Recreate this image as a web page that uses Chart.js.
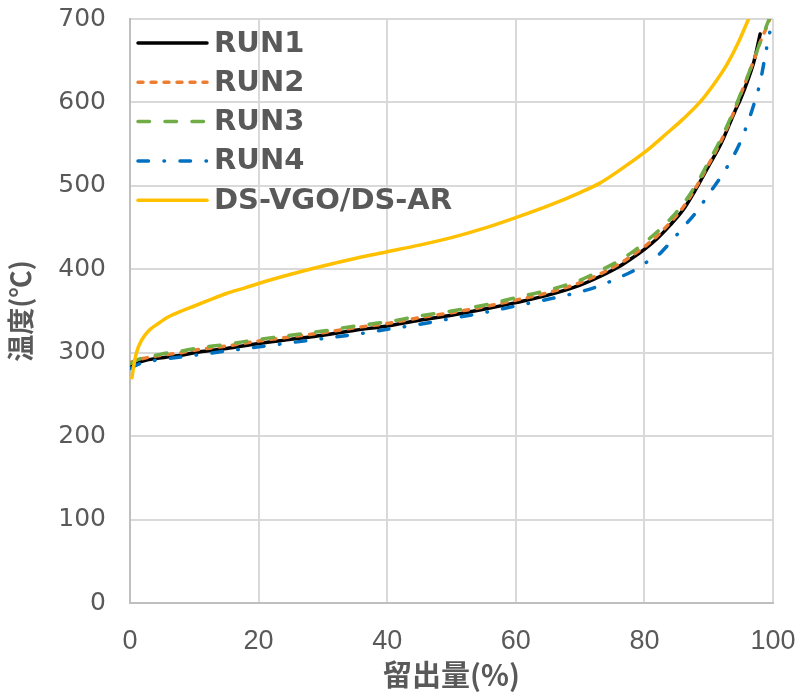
<!DOCTYPE html>
<html>
<head>
<meta charset="utf-8">
<script src="https://cdn.jsdelivr.net/npm/chart.js@4"></script>
<style>
  html, body { margin: 0; padding: 0; background: #fff; }
  #wrap { width: 798px; height: 693px; }
</style>
</head>
<body>
<div id="wrap"><canvas id="chartResult" width="798" height="693"></canvas></div>
<script>
// 留出量(%) for RUN1-4
var pctX = [0, 1, 2, 4, 6, 8, 10, 15, 20, 25, 30, 35, 40, 45, 50, 55, 60, 65, 70, 73, 76, 78, 80, 82, 84, 86, 88, 90, 92, 94, 95, 96, 97, 98, 99, 99.5, 100];
var run1 = [282, 287, 290, 293, 295, 297, 300, 305, 311, 316, 321, 327, 332, 339, 345, 352, 360, 369, 381, 391, 403, 413, 424, 437, 453, 471, 496, 524, 552, 588, 605, 625, 648, 682, null, null, null];
var run2 = [288, 291, 293, 296, 298, 300, 303, 308, 314, 319, 324, 330, 335, 342, 348, 355, 363, 372, 384, 394, 406, 416, 427, 440, 456, 474, 498, 526, 555, 590, 610, 630, 650, 672, 690, 700, null];
var run3 = [287, 291, 294, 297, 300, 302, 305, 310, 316, 321, 326, 332, 337, 344, 350, 357, 366, 375, 387, 398, 410, 420, 432, 445, 460, 478, 501, 529, 558, 592, 611, 630, 651, 672, 692, 702, 712];
var run4 = [281, 285, 288, 291, 293, 295, 297, 302, 307, 312, 317, 322, 328, 334, 341, 348, 356, 364, 373, 380, 390, 397, 407, 416, 432, 450, 468, 490, 512, 538, 554, 574, 597, 624, 665, 684, null];

// DS-VGO/DS-AR
var dsX = [0.3, 0.6, 1, 1.8, 3, 4.4, 6, 8, 10, 12, 15, 18, 20, 25, 30, 35, 40, 45, 50, 55, 60, 65, 70, 73, 76, 80, 83.5, 86, 88.6, 91, 92.8, 94.5, 96.2];
var dsY = [270, 285, 300, 315, 327, 335, 343, 350, 356, 362, 371, 378, 383, 394, 404, 413, 421, 429, 438, 449, 462, 476, 492, 503, 518, 540, 563, 580, 600, 624, 645, 670, 700];

var seriesNames = ['RUN1', 'RUN2', 'RUN3', 'RUN4', 'DS-VGO/DS-AR'];
var xTicks = [0, 20, 40, 60, 80, 100];
var yTicks = [0, 100, 200, 300, 400, 500, 600, 700];

function toPoints(xs, ys) {
    var pts = [];
    for (var i = 0; i < xs.length; i++) {
        pts.push({ x: xs[i], y: ys[i] });
    }
    return pts;
}

var lineStyles = [
    { color: '#000000', dash: [] },
    { color: '#ED7D31', dash: [5, 8] },
    { color: '#70AD47', dash: [11.5, 15.5] },
    { color: '#0070C0', dash: [10.5, 15.5, 0.5, 15.5] },
    { color: '#FFC000', dash: [] }
];
var seriesData = [
    toPoints(pctX, run1),
    toPoints(pctX, run2),
    toPoints(pctX, run3),
    toPoints(pctX, run4),
    toPoints(dsX, dsY)
];

var datasets = seriesNames.map(function (name, i) {
    return {
        label: name,
        data: seriesData[i],
        borderColor: lineStyles[i].color,
        backgroundColor: lineStyles[i].color,
        borderDash: lineStyles[i].dash,
        borderCapStyle: 'round',
        borderWidth: 3.5,
        pointRadius: 0,
        tension: 0.3,
        cubicInterpolationMode: 'monotone',
        spanGaps: false,
        order: 5 - i
    };
});

// legend drawn inside the plot, top-left
var insideLegend = {
    id: 'insideLegend',
    afterDraw: function (chart) {
        var ctx = chart.ctx;
        var left = chart.chartArea.left;
        ctx.save();
        ctx.font = 'bold 29px "DejaVu Sans"';
        ctx.textBaseline = 'middle';
        ctx.fillStyle = '#595959';
        seriesNames.forEach(function (name, i) {
            var y = 43 + i * 39.3;
            ctx.beginPath();
            ctx.strokeStyle = lineStyles[i].color;
            ctx.lineWidth = 3.5;
            ctx.lineCap = 'round';
            ctx.setLineDash(lineStyles[i].dash);
            ctx.moveTo(left + 8, y);
            ctx.lineTo(left + 77, y);
            ctx.stroke();
            ctx.fillText(name, left + 84, y + 1);
        });
        ctx.restore();
    }
};

// keep tick label overflow from shrinking the plot area
function noEdgePadding(s) {
    s.paddingTop = 0;
    s.paddingBottom = 0;
    s.paddingLeft = 0;
    s.paddingRight = 0;
}

var canvasShow = document.getElementById('chartResult');

var mainChart = new Chart(canvasShow, {
    type: 'line',
    data: { datasets: datasets },
    plugins: [insideLegend],
    options: {
        responsive: false,
        animation: false,
        layout: { padding: { left: 0, top: 19, right: 25, bottom: 0 } },
        plugins: {
            legend: { display: false },
            tooltip: { enabled: false }
        },
        scales: {
            x: {
                type: 'linear',
                min: 0,
                max: 100,
                afterFit: function (s) { s.height = 90; noEdgePadding(s); },
                afterBuildTicks: function (s) { s.ticks = xTicks.map(function (v) { return { value: v }; }); },
                grid: { color: '#d9d9d9', lineWidth: 2, drawTicks: false },
                border: { color: '#bfbfbf', width: 2 },
                ticks: {
                    padding: 22,
                    color: '#595959',
                    font: { family: '"Liberation Sans"', size: 27 },
                    maxRotation: 0
                },
                title: {
                    display: true,
                    text: '留出量(%)',
                    color: '#595959',
                    padding: { top: 0, bottom: 1 },
                    font: { family: '"Noto Sans CJK JP"', size: 29, weight: 'bold' }
                }
            },
            y: {
                min: 0,
                max: 700,
                afterFit: function (s) { s.width = 130; noEdgePadding(s); },
                afterBuildTicks: function (s) { s.ticks = yTicks.map(function (v) { return { value: v }; }); },
                grid: { color: '#d9d9d9', lineWidth: 2, drawTicks: false },
                border: { color: '#bfbfbf', width: 2 },
                ticks: {
                    padding: 24,
                    color: '#595959',
                    font: { family: '"DejaVu Sans"', size: 25 }
                },
                title: {
                    display: true,
                    text: '温度(℃)',
                    color: '#595959',
                    padding: { top: 5, bottom: 0 },
                    font: { family: '"Noto Sans CJK JP"', size: 27, weight: 'bold' }
                }
            }
        }
    }
});
</script>
</body>
</html>
